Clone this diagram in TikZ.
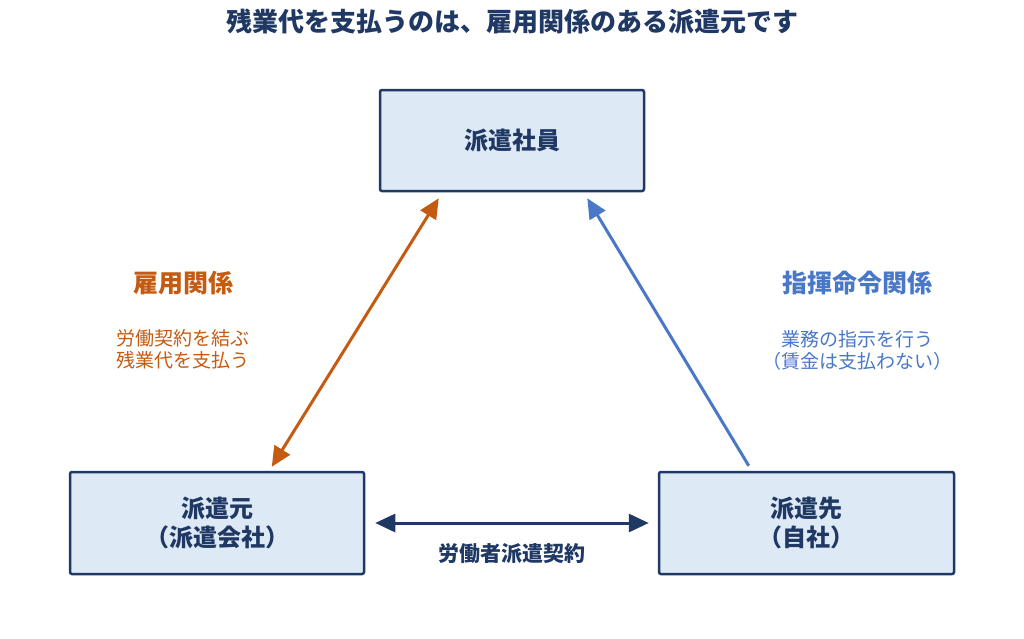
\documentclass[tikz,border=0pt]{standalone}
\usepackage{fontspec}
\setmainfont{Noto Sans CJK JP}
\usepackage{xcolor}
\usetikzlibrary{arrows.meta}

\definecolor{navy}{HTML}{1F3864}
\definecolor{boxfill}{HTML}{DEE9F6}
\definecolor{orangeline}{HTML}{C55A11}
\definecolor{blueline}{HTML}{4A78C8}

\begin{document}
\begin{tikzpicture}[x=1pt, y=-1pt]
        % Define styles
        \tikzset{
            party/.style={rectangle, draw=navy, fill=boxfill, line width=2.5pt, rounded corners=2pt, align=center, text=navy, font=\fontsize{24}{29}\selectfont\bfseries},
            relation/.style={font=\fontsize{25}{30}\selectfont\bfseries},
            note/.style={align=center, font=\fontsize{19}{22}\selectfont},
            arrow/.style={line width=3pt, {Triangle[length=20pt,width=18pt]}-{Triangle[length=20pt,width=18pt]}},
            onearrow/.style={line width=3pt, -{Triangle[length=20pt,width=18pt]}}
        }
        \useasboundingbox (0,0) rectangle (1024,638);

        % Title
        \node[text=navy, font=\fontsize{26}{30}\selectfont\bfseries] (title) at (512,22) {残業代を支払うのは、雇用関係のある派遣元です};

        % Nodes
        \node[party, minimum width=264pt, minimum height=101pt] (staff) at (512,140.5) {派遣社員};
        \node[party, minimum width=294pt, minimum height=102pt] (agency) at (217,523) {派遣元\\（派遣会社）};
        \node[party, minimum width=295pt, minimum height=102pt] (client) at (806.5,523) {派遣先\\（自社）};

        % Labels
        \node[relation, text=orangeline] (employ_label) at (183,283) {雇用関係};
        \node[note, text=orangeline] (employ_note) at (183,349) {労働契約を結ぶ\\残業代を支払う};
        \node[relation, text=blueline] (command_label) at (857,283) {指揮命令関係};
        \node[note, text=blueline] (command_note) at (857,350) {業務の指示を行う\\（賃金は支払わない）};
        \node[text=navy, font=\fontsize{21}{25}\selectfont\bfseries] (contract_label) at (512,554) {労働者派遣契約};

        % Arrows
        \draw[arrow, orangeline] ([xshift=60pt,yshift=-6pt]staff.south west) -- ([xshift=203pt,yshift=4pt]agency.north west);
        \draw[onearrow, blueline] ([xshift=91pt,yshift=5pt]client.north west) -- ([xshift=-58pt,yshift=-6pt]staff.south east);
        \draw[arrow, navy] ([xshift=10pt]agency.east) -- ([xshift=-9pt]client.west);
\end{tikzpicture}
\end{document}
